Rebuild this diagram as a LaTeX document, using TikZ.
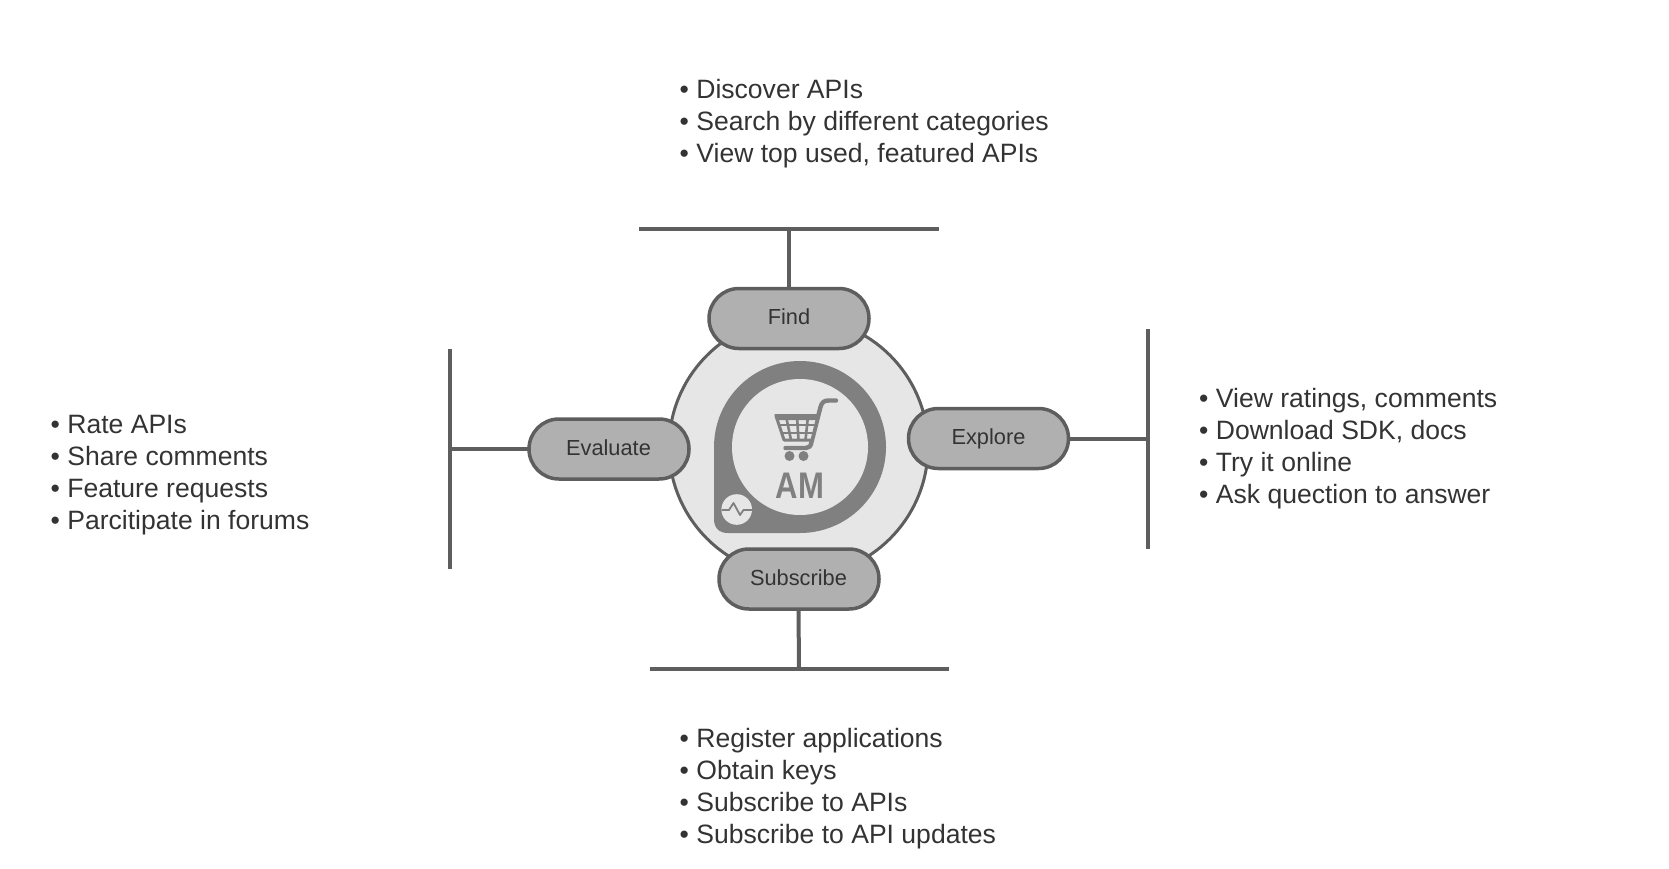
\documentclass[tikz,border=0pt]{standalone}
\usepackage{fontspec}
\usepackage{graphicx}
\setmainfont{Liberation Sans}
\definecolor{ink}{HTML}{333333}
\definecolor{edge}{HTML}{5E5E5E}
\definecolor{pillfill}{HTML}{B0B0B0}
\definecolor{hub}{HTML}{E6E6E6}
\definecolor{logo}{HTML}{808080}
\tikzset{
  pillline/.style={draw=edge,line width=3.5pt,fill=pillfill},
  pilltext/.style={minimum width=160pt,minimum height=60pt,inner sep=0pt,text=ink,text depth=0pt,font=\fontsize{21.8}{26}\selectfont},
  bar/.style={draw=edge,line width=4pt},
  items/.style={anchor=north west,align=left,inner sep=0pt,text=ink,font=\fontsize{26.55}{32}\selectfont},
  logoline/.style={draw=logo,line cap=round,line join=round}
}
\newcommand\pillpath{(-50,-30) -- (50,-30) .. controls (66.6,-30) and (80,-16.6) .. (80,0) .. controls (80,16.6) and (66.6,30) .. (50,30) -- (-50,30) .. controls (-66.6,30) and (-80,16.6) .. (-80,0) .. controls (-80,-16.6) and (-66.6,-30) .. (-50,-30) -- cycle}
\begin{document}
\begin{tikzpicture}[x=1pt,y=-1pt]
\useasboundingbox (0,0) rectangle (1669,869);
% hub
\node[circle,draw=edge,line width=3pt,fill=hub,minimum size=259pt,inner sep=0pt] (hubc) at (798.5,447) {};
% logo ring
\fill[logo] (800,447) circle[radius=86pt];
\fill[logo] (714,447) -- (714,519) .. controls (714,528) and (719,533) .. (728,533) -- (800,533) -- (800,447) -- cycle;
\fill[hub] (800,447) circle[radius=68pt];
% small badge
\fill[hub] (736.7,509.5) circle[radius=15.3pt];
\draw[logoline,line width=1.8pt,line cap=butt] (721.5,510) -- (729,510) -- (733.5,503) -- (740,515) -- (743.5,510) -- (752,510);
% cart
\draw[logoline,line width=4.4pt] (836,400.5) -- (829,400.5) .. controls (824,400.5) and (822,402) .. (820.5,407) -- (811.5,442) .. controls (811,446) and (809,448) .. (806,448) -- (785.5,448);
\draw[logoline,line width=3pt,fill=hub] (776,416) -- (818,416) -- (812,440) -- (784,440) -- cycle;
\fill[logo] (774.5,414) -- (819,414) -- (818,420) -- (776,420) -- cycle;
\draw[logoline,line width=2.6pt,line cap=butt] (778,425) -- (816,425);
\draw[logoline,line width=2.6pt,line cap=butt] (781,433) -- (814,433);
\draw[logoline,line width=2.6pt,line cap=butt] (786,416) -- (791,440);
\draw[logoline,line width=2.6pt,line cap=butt] (797,416) -- (798.5,440);
\draw[logoline,line width=2.6pt,line cap=butt] (808,416) -- (805.5,440);
\fill[logo] (789.5,456) circle[radius=5pt] (803.5,456) circle[radius=5pt];
\node[inner sep=0pt,anchor=base,text=logo,font=\bfseries\fontsize{37}{40}\selectfont] (am) at (800,498) {\scalebox{.84}[1]{AM}};
% bars
\coordinate (topl) at (639,229); \coordinate (topr) at (939,229); \coordinate (topm) at (789,229);
\coordinate (botl) at (649.5,669); \coordinate (botr) at (949,669); \coordinate (botm) at (799,669);
\coordinate (leftt) at (449.5,349); \coordinate (leftb) at (449.5,569); \coordinate (leftm) at (449.5,449);
\coordinate (rightt) at (1148,329); \coordinate (rightb) at (1148,548.5); \coordinate (rightm) at (1148,438.5);
% pills
\draw[pillline,shift={(789,318.5)}] \pillpath;
\draw[pillline,shift={(988.5,438.5)}] \pillpath;
\draw[pillline,shift={(799,579)}] \pillpath;
\draw[pillline,shift={(609,449)}] \pillpath;
\node[pilltext] (find) at (789,318.5) {\raisebox{3.1pt}{Find}};
\node[pilltext] (explore) at (988.5,438.5) {\raisebox{3.1pt}{Explore}};
\node[pilltext] (subscribe) at (798.5,579) {\raisebox{3.1pt}{Subscribe}};
\node[pilltext] (evaluate) at (608.5,449) {\raisebox{3.1pt}{Evaluate}};
% connectors
\draw[bar] (topl) -- (topr);
\draw[bar] (botl) -- (botr);
\draw[bar] (leftt) -- (leftb);
\draw[bar] (rightt) -- (rightb);
\draw[bar] (find.north) -- (topm);
\draw[bar] (subscribe.south) -- (botm);
\draw[bar] (evaluate.west) -- (leftm);
\draw[bar] (explore.east) -- (rightm);
% lists
\node[items] (listtop) at (679.5,79.5) {• Discover APIs\\• Search by different categories\\• View top used, featured APIs};
\node[items] (listright) at (1199,388.5) {• View ratings, comments\\• Download SDK, docs\\• Try it online\\• Ask quection to answer};
\node[items] (listleft) at (50.5,415.5) {• Rate APIs\\• Share comments\\• Feature requests\\• Parcitipate in forums};
\node[items] (listbottom) at (679.5,728) {• Register applications\\• Obtain keys\\• Subscribe to APIs\\• Subscribe to API updates};
\end{tikzpicture}
\end{document}
